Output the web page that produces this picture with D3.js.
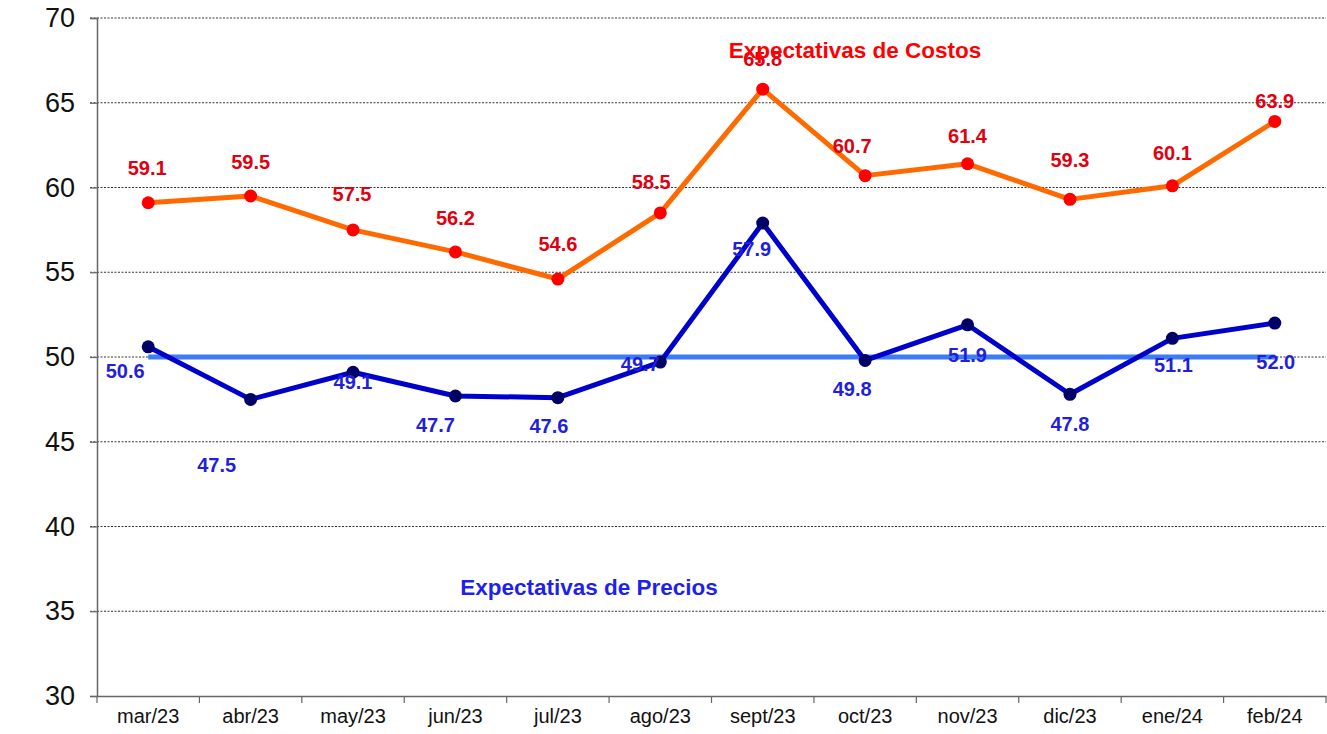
<!DOCTYPE html>
<html>
<head>
<meta charset="utf-8">
<script src="https://cdn.jsdelivr.net/npm/d3@7"></script>
<style>
  body { margin: 0; background: #fff; }
  svg { display: block; font-family: Arial, "Liberation Sans", sans-serif; }
</style>
</head>
<body>
<div class="chart-holder"></div>
<script>
let months = ['mar/23','abr/23','may/23','jun/23','jul/23','ago/23','sept/23','oct/23','nov/23','dic/23','ene/24','feb/24']
let costos = [59.1, 59.5, 57.5, 56.2, 54.6, 58.5, 65.8, 60.7, 61.4, 59.3, 60.1, 63.9]
let precios = [50.6, 47.5, 49.1, 47.7, 47.6, 49.7, 57.9, 49.8, 51.9, 47.8, 51.1, 52.0]
let referencia = 50
let yTicks = [30, 35, 40, 45, 50, 55, 60, 65, 70]

// label nudges (layout only), [dx, dy] in px from the point
let precLabelNudge = [[-23, 24], [-34, 66], [0, 10], [-20, 29], [-9, 28], [-20, 2], [-11, 26], [-13, 29], [0, 30], [0, 30], [1, 27], [1, 39]]
let costLabelNudge = [[-1, -35], [0, -34], [-1, -36], [0, -34], [0, -35], [-9, -31], [0, -30], [-13, -30], [0, -28], [0, -39], [0, -33], [0, -20]]

let margin = { top: 18, bottom: 38, left: 97, right: 1 }
let width = 1327 - margin.left - margin.right
let height = 734 - margin.top - margin.bottom

let svg = d3.select('.chart-holder')
    .append('svg')
        .attr('width', 1327)
        .attr('height', 734)

let g = svg.append('g')
    .attr('transform', 'translate(' + margin.left + ',' + margin.top + ')')

let x = d3.scaleBand().domain(months).range([0, width])
let y = d3.scaleLinear().domain([30, 70]).range([height, 0])
let cx = d => x(d) + x.bandwidth() / 2

// gridlines
g.append('g').selectAll('line')
    .data(yTicks.filter(t => t > 30))
    .enter()
    .append('line')
        .attr('x1', -7).attr('x2', width)
        .attr('y1', d => y(d)).attr('y2', d => y(d))
        .attr('stroke', '#000')
        .attr('stroke-width', 0.8)
        .attr('stroke-dasharray', '2,1.5')

// y axis
let yAxis = g.append('g')
    .call(d3.axisLeft(y).tickValues(yTicks).tickSize(7).tickPadding(15))
yAxis.select('.domain').attr('stroke', '#666').attr('stroke-width', 1.5)
yAxis.selectAll('.tick line').attr('stroke', '#666').attr('stroke-width', 1.2)
yAxis.selectAll('text').attr('font-size', 27).attr('fill', '#111').attr('font-family', 'Arial, "Liberation Sans", sans-serif')

// x axis
let xAxis = g.append('g')
    .attr('transform', 'translate(0,' + height + ')')
    .call(d3.axisBottom(x).tickSize(0).tickPadding(13))
xAxis.select('.domain').attr('stroke', '#666').attr('stroke-width', 1.5)
xAxis.selectAll('text').attr('font-size', 20).attr('fill', '#111').attr('font-family', 'Arial, "Liberation Sans", sans-serif')
xAxis.append('g').selectAll('line')
    .data(d3.range(months.length + 1))
    .enter()
    .append('line')
        .attr('x1', i => i * x.bandwidth()).attr('x2', i => i * x.bandwidth())
        .attr('y1', 0).attr('y2', 7)
        .attr('stroke', '#666').attr('stroke-width', 1.2)

// 50 reference line
g.append('line')
    .attr('x1', cx(months[0])).attr('x2', cx(months[months.length - 1]))
    .attr('y1', y(referencia)).attr('y2', y(referencia))
    .attr('stroke', '#3d7cf5')
    .attr('stroke-width', 5)

let line = d3.line()
    .x((d, i) => cx(months[i]))
    .y(d => y(d))

// costos
g.append('path')
    .datum(costos)
    .attr('d', line)
    .attr('fill', 'none')
    .attr('stroke', '#ff6a00')
    .attr('stroke-width', 5)
    .attr('stroke-linejoin', 'round')

// precios
g.append('path')
    .datum(precios)
    .attr('d', line)
    .attr('fill', 'none')
    .attr('stroke', '#0000cc')
    .attr('stroke-width', 5)
    .attr('stroke-linejoin', 'round')

g.append('g').selectAll('circle')
    .data(costos)
    .enter()
    .append('circle')
        .attr('cx', (d, i) => cx(months[i]))
        .attr('cy', d => y(d))
        .attr('r', 6.5)
        .attr('fill', '#ff0000')

g.append('g').selectAll('circle')
    .data(precios)
    .enter()
    .append('circle')
        .attr('cx', (d, i) => cx(months[i]))
        .attr('cy', d => y(d))
        .attr('r', 6.5)
        .attr('fill', '#000066')

// value labels
g.append('g').selectAll('text')
    .data(costos)
    .enter()
    .append('text')
        .attr('x', (d, i) => cx(months[i]) + costLabelNudge[i][0])
        .attr('y', (d, i) => y(d) + costLabelNudge[i][1])
        .attr('text-anchor', 'middle')
        .attr('dominant-baseline', 'central')
        .attr('font-size', 20)
        .attr('font-weight', 'bold')
        .attr('fill', '#e0000f')
        .text(d => d.toFixed(1))

g.append('g').selectAll('text')
    .data(precios)
    .enter()
    .append('text')
        .attr('x', (d, i) => cx(months[i]) + precLabelNudge[i][0])
        .attr('y', (d, i) => y(d) + precLabelNudge[i][1])
        .attr('text-anchor', 'middle')
        .attr('dominant-baseline', 'central')
        .attr('font-size', 20)
        .attr('font-weight', 'bold')
        .attr('fill', '#1f1fdd')
        .text(d => d.toFixed(1))

// series titles
svg.append('text')
    .attr('x', 855).attr('y', 50)
    .attr('text-anchor', 'middle')
    .attr('dominant-baseline', 'central')
    .attr('font-size', 22.5).attr('font-weight', 'bold')
    .attr('fill', '#ff0000')
    .text('Expectativas de Costos')

svg.append('text')
    .attr('x', 589).attr('y', 587)
    .attr('text-anchor', 'middle')
    .attr('dominant-baseline', 'central')
    .attr('font-size', 22.5).attr('font-weight', 'bold')
    .attr('fill', '#1f1fee')
    .text('Expectativas de Precios')
</script>
</body>
</html>
